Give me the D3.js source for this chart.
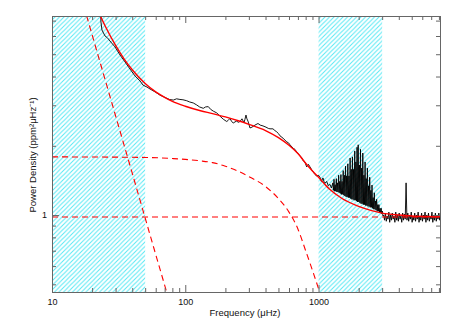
<!DOCTYPE html>
<meta charset="utf-8">
<style>
body { margin: 0; background: #fff; }
text { font-family: "Liberation Sans", Arial, sans-serif; fill: #111; }
.axis .domain { display: none; }
.axis line { stroke: #666; }
</style>
<head>
    <title>Power density spectrum</title>
</head>

<script src="https://d3js.org/d3.v7.min.js"></script>

<div id="chart"></div>

<script>
// ---- data ----
// observed spectrum, low part (uHz, ppm^2/uHz)
var lowFreq = [22.9, 23.3, 23.7, 25.0, 26.0, 27.2, 29.7, 32.4, 35.3, 38.5, 42.0, 45.7, 48.2, 51.6, 54.4, 59.3,
  64.6, 72.5, 76.0, 81.3, 86, 91.2, 96, 102.4, 108, 114.8, 121.8, 128, 136.5, 142, 148.8, 155, 162.2, 172.0,
  182.2, 192.8, 204.5, 210, 216.4, 222, 229.1, 236, 243.0, 250, 257.3, 266.3, 275.6, 280, 285.4, 290, 295.5,
  305.8, 316.5, 333.4, 351.2, 365, 382.8, 403.2, 420, 432.0, 454.9, 470, 485.0, 500, 513.4, 540.7, 576.4, 595,
  610.2, 646.0, 665, 685.0, 725.3, 745, 767.8, 790, 814.3, 840, 861.9, 890, 912.5, 940, 967.6, 995, 1024.5,
  1050, 1079, 1110, 1150, 1185, 1218, 1250];
var lowPow = [9.0, 6.9, 6.37, 6.00, 5.90, 5.71, 5.38, 4.96, 4.63, 4.31, 4.02, 3.83, 3.67, 3.60, 3.53, 3.43,
  3.32, 3.22, 3.18, 3.16, 3.20, 3.18, 3.17, 3.14, 3.10, 3.07, 3.01, 2.95, 2.91, 2.95, 2.96, 2.88, 2.83, 2.78,
  2.69, 2.61, 2.55, 2.58, 2.63, 2.56, 2.51, 2.54, 2.56, 2.53, 2.55, 2.62, 2.52, 2.60, 2.72, 2.62, 2.56,
  2.39, 2.41, 2.46, 2.50, 2.46, 2.44, 2.41, 2.38, 2.37, 2.37, 2.33, 2.30, 2.26, 2.21, 2.16, 2.08, 2.06,
  2.02, 1.95, 1.93, 1.88, 1.81, 1.78, 1.72, 1.70, 1.62, 1.66, 1.62, 1.57, 1.54, 1.50, 1.48, 1.49, 1.46,
  1.40, 1.45, 1.37, 1.40, 1.34, 1.36, 1.31];
// oscillation hump
var humpFreq = [1280, 1293, 1306, 1319, 1332, 1345, 1359, 1372, 1386, 1400,
  1414, 1428, 1442, 1457, 1471, 1486, 1501, 1516, 1531, 1546,
  1562, 1577, 1593, 1609, 1625, 1641, 1658, 1674, 1691, 1708,
  1725, 1742, 1760, 1777, 1795, 1813, 1831, 1849, 1868, 1887,
  1905, 1924, 1944, 1963, 1983, 2003, 2023, 2043, 2063, 2084,
  2105, 2126, 2147, 2169, 2190, 2212, 2234, 2257, 2279, 2302,
  2325, 2348, 2372, 2396, 2420, 2444, 2468, 2493, 2518, 2543,
  2569, 2594, 2620, 2646, 2673, 2700, 2727, 2754, 2781, 2809,
  2837, 2866, 2894, 2923, 2952, 2982, 3012, 3042];
var humpPow = [1.38, 1.28, 1.43, 1.27, 1.355, 1.27, 1.44, 1.26, 1.38, 1.26,
  1.49, 1.25, 1.40, 1.24, 1.50, 1.23, 1.40, 1.23, 1.56, 1.22,
  1.49, 1.21, 1.63, 1.20, 1.48, 1.20, 1.67, 1.19, 1.48, 1.19,
  1.77, 1.18, 1.58, 1.17, 1.79, 1.17, 1.58, 1.16, 1.90, 1.16,
  1.70, 1.15, 1.97, 1.14, 2.02, 1.14, 1.65, 1.13, 1.93, 1.12,
  1.60, 1.12, 1.86, 1.11, 1.49, 1.11, 1.70, 1.10, 1.44, 1.10,
  1.60, 1.09, 1.34, 1.09, 1.46, 1.08, 1.28, 1.08, 1.35, 1.07,
  1.19, 1.06, 1.25, 1.06, 1.15, 1.05, 1.17, 1.04, 1.11, 1.04,
  1.11, 1.03, 1.07, 1.02, 1.07, 1.01, 1.04, 0.99];
// high-frequency tail
var tailFreq = [3080, 3126, 3173, 3221, 3269, 3318, 3368, 3418, 3469, 3521,
  3574, 3628, 3682, 3738, 3794, 3851, 3908, 3967, 4026, 4087,
  4148, 4210, 4274, 4338, 4403, 4469, 4536, 4604, 4673, 4743,
  4815, 4887, 4960, 5035, 5110, 5187, 5265, 5344, 5424, 5505,
  5588, 5672, 5757, 5843, 5931, 6020, 6110, 6201, 6294, 6389,
  6485, 6582, 6681, 6781, 6883, 6986, 7091, 7197, 7305, 7415,
  7526, 7639, 7754, 7870, 7988, 8108, 8150];
var tailPow = [1.00, 0.95, 1.02, 0.94, 0.99, 0.96, 1.03, 0.93, 1.00, 0.95,
  1.02, 0.96, 0.99, 0.93, 1.03, 0.95, 1.00, 0.94, 1.02, 0.96,
  0.99, 0.93, 1.02, 0.95, 1.01, 0.96, 1.38, 0.95, 1.02, 0.94,
  1.00, 0.96, 1.03, 0.93, 0.99, 0.95, 1.02, 0.94, 1.00, 0.96,
  1.03, 0.93, 0.99, 0.95, 1.02, 0.94, 1.00, 0.96, 1.03, 0.93,
  1.00, 0.95, 1.02, 0.94, 0.99, 0.96, 1.03, 0.93, 1.00, 0.95,
  1.02, 0.94, 1.00, 0.96, 1.02, 0.95, 0.99];

// fitted background (solid red)
var fitFreq = [17, 18, 20, 22, 25, 30, 35, 40, 50, 60, 70, 80, 100, 130, 160, 200, 250, 300, 400, 500,
  600, 700, 800, 900, 1000, 1200, 1500, 2000, 2500, 3000, 4000, 5000, 6500, 8150];
var fitPow = [11.6, 10.26, 8.84, 7.79, 6.65, 5.46, 4.74, 4.28, 3.73, 3.43, 3.25, 3.12, 2.97, 2.84, 2.76, 2.67,
  2.57, 2.48, 2.33, 2.17, 2.01, 1.85, 1.68, 1.555, 1.46, 1.30, 1.18, 1.09, 1.045, 1.02, 1.0, 0.99, 0.985, 0.983];
// components (dashed red)
var comp1Freq = [15, 20, 30, 40, 50, 60, 75, 80];
var comp1Pow = [10.8, 6.07, 2.70, 1.52, 0.971, 0.674, 0.432, 0.379];
var comp2Freq = [10, 50, 80, 100, 130, 160, 200, 250, 300, 400, 500, 600, 700, 800, 900, 1000, 1100];
var comp2Pow = [1.79, 1.78, 1.76, 1.745, 1.72, 1.69, 1.63, 1.55, 1.47, 1.33, 1.18, 1.03, 0.87, 0.70, 0.575, 0.478, 0.40];
var noiseFreq = [10, 8150];
var noisePow = [0.98, 0.98];

// hatched frequency ranges
var bandLo = [10, 1000];
var bandHi = [50, 3000];

// ticks
var xMajor = [10, 100, 1000];
var xMinor = [20, 30, 40, 50, 60, 70, 80, 90, 200, 300, 400, 500, 600, 700, 800, 900,
  2000, 3000, 4000, 5000, 6000, 7000, 8000];
var yMajor = [1];
var yMinor = [0.5, 0.6, 0.7, 0.8, 0.9, 2, 3, 4, 5, 6, 7];

// ---- layout ----
var W = 455, H = 325;
var margin = {top: 16, right: 15, bottom: 33, left: 52};
var width = W - margin.left - margin.right,
    height = H - margin.top - margin.bottom;

var svg = d3.select("#chart").append("svg")
    .attr("width", W)
    .attr("height", H);

var x = d3.scaleLog().domain([10, 8150]).range([margin.left, margin.left + width]);
var y = d3.scaleLog().domain([0.463, 7.33]).range([margin.top + height, margin.top]);

var defs = svg.append("defs");
defs.append("clipPath").attr("id", "plotclip")
  .append("rect")
    .attr("x", margin.left).attr("y", margin.top)
    .attr("width", width).attr("height", height);

var pat = defs.append("pattern")
    .attr("id", "hatch")
    .attr("patternUnits", "userSpaceOnUse")
    .attr("width", 4.5).attr("height", 4.5);
pat.append("path")
    .attr("d", "M-1,1 L1,-1 M0,4.5 L4.5,0 M3.5,5.5 L5.5,3.5")
    .attr("stroke", "#55e8f4")
    .attr("stroke-width", 1);

// hatched bands
svg.append("g").selectAll("rect")
  .data(bandLo)
  .enter().append("rect")
    .attr("x", function(d) { return x(d); })
    .attr("y", margin.top)
    .attr("width", function(d, i) { return x(bandHi[i]) - x(d); })
    .attr("height", height)
    .attr("fill", "url(#hatch)");

var plot = svg.append("g").attr("clip-path", "url(#plotclip)");

function pts(fs, ps) { return fs.map(function(f, i) { return [f, ps[i]]; }); }

var line = d3.line()
    .x(function(d) { return x(d[0]); })
    .y(function(d) { return y(d[1]); });
var smooth = d3.line()
    .x(function(d) { return x(d[0]); })
    .y(function(d) { return y(d[1]); })
    .curve(d3.curveMonotoneX);

var spectrum = pts(lowFreq, lowPow).concat(pts(humpFreq, humpPow), pts(tailFreq, tailPow));

plot.append("path")
    .attr("d", line(spectrum))
    .attr("fill", "none")
    .attr("stroke", "#000")
    .attr("stroke-width", 0.9);

// dashed components
[[comp1Freq, comp1Pow], [comp2Freq, comp2Pow], [noiseFreq, noisePow]].forEach(function(c) {
  plot.append("path")
      .attr("d", smooth(pts(c[0], c[1])))
      .attr("fill", "none")
      .attr("stroke", "#f00")
      .attr("stroke-width", 1.1)
      .attr("stroke-dasharray", "6,4");
});

plot.append("path")
    .attr("d", smooth(pts(fitFreq, fitPow)))
    .attr("fill", "none")
    .attr("stroke", "#f00")
    .attr("stroke-width", 1.4);

// ---- axes ----
var bottom = margin.top + height, right = margin.left + width;

function styleAxis(g) {
  g.attr("font-size", 9).attr("font-family", "Liberation Sans, Arial, sans-serif");
}

svg.append("g").attr("class", "axis")
    .attr("transform", "translate(0," + bottom + ")")
    .call(d3.axisBottom(x).tickValues(xMajor).tickSize(-7).tickPadding(7).tickFormat(d3.format("d")))
    .call(styleAxis);
svg.append("g").attr("class", "axis")
    .attr("transform", "translate(0," + bottom + ")")
    .call(d3.axisBottom(x).tickValues(xMinor).tickSize(-4).tickFormat(""));
svg.append("g").attr("class", "axis")
    .attr("transform", "translate(0," + margin.top + ")")
    .call(d3.axisTop(x).tickValues(xMajor).tickSize(-7).tickFormat(""));
svg.append("g").attr("class", "axis")
    .attr("transform", "translate(0," + margin.top + ")")
    .call(d3.axisTop(x).tickValues(xMinor).tickSize(-4).tickFormat(""));

svg.append("g").attr("class", "axis")
    .attr("transform", "translate(" + margin.left + ",0)")
    .call(d3.axisLeft(y).tickValues(yMajor).tickSize(-7).tickPadding(5).tickFormat(d3.format("d")))
    .call(styleAxis);
svg.append("g").attr("class", "axis")
    .attr("transform", "translate(" + margin.left + ",0)")
    .call(d3.axisLeft(y).tickValues(yMinor).tickSize(-4).tickFormat(""));
svg.append("g").attr("class", "axis")
    .attr("transform", "translate(" + right + ",0)")
    .call(d3.axisRight(y).tickValues(yMajor).tickSize(-7).tickFormat(""));
svg.append("g").attr("class", "axis")
    .attr("transform", "translate(" + right + ",0)")
    .call(d3.axisRight(y).tickValues(yMinor).tickSize(-4).tickFormat(""));

// frame
svg.append("rect")
    .attr("x", margin.left + 0.5).attr("y", margin.top + 0.5)
    .attr("width", width).attr("height", height)
    .attr("fill", "none")
    .attr("stroke", "#666")
    .attr("stroke-width", 1);

// titles
svg.append("text")
    .attr("x", 245).attr("y", 316)
    .attr("text-anchor", "middle")
    .attr("font-size", 9.5)
    .text("Frequency (\u03bcHz)");

svg.append("text")
    .attr("transform", "translate(36,155) rotate(-90)")
    .attr("text-anchor", "middle")
    .attr("font-size", 9.5)
    .text("Power Density (ppm\u00b2\u03bcHz\u207b\u00b9)");
</script>
